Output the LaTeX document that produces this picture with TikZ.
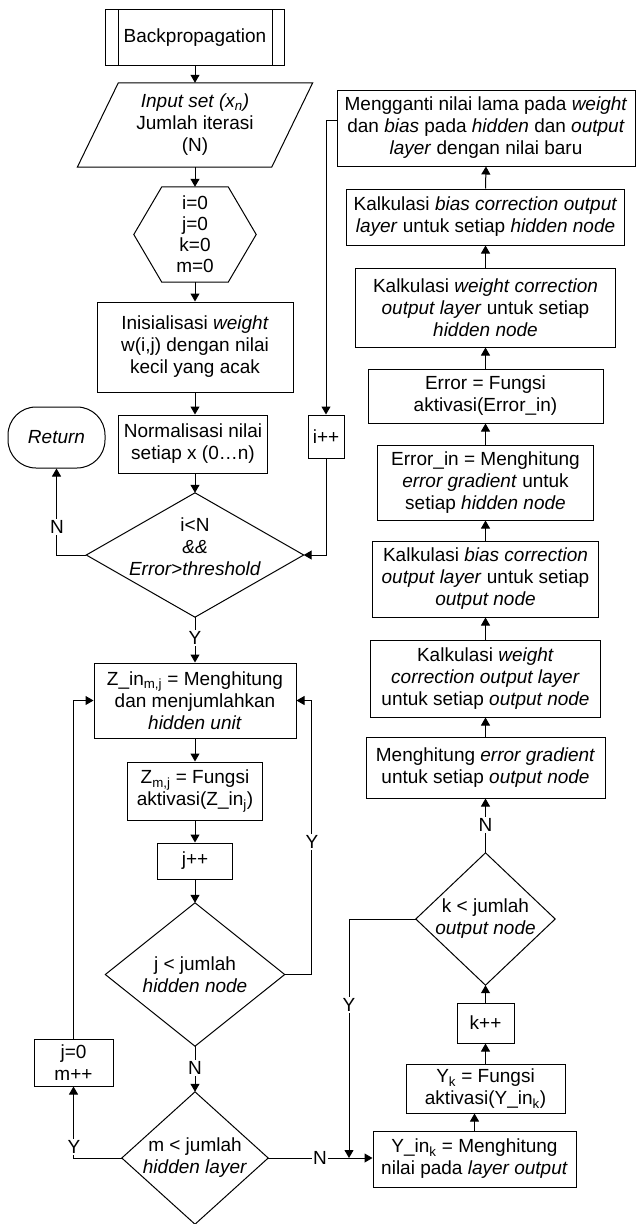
\documentclass[tikz,border=0pt]{standalone}
\usepackage{fontspec}
\setmainfont{Liberation Sans}
\usetikzlibrary{arrows.meta,calc}
\begin{document}
\begin{tikzpicture}[x=1pt,y=-1pt,
  every node/.style={font=\fontsize{19}{22}\selectfont, align=center, inner sep=1pt},
  bx/.style 2 args={draw, rectangle, line width=1pt, minimum width=#1pt, minimum height=#2pt},
  shp/.style 2 args={rectangle, minimum width=#1pt, minimum height=#2pt},
  arr/.style={line width=1pt, -{Triangle[length=8pt,width=9pt]}},
  ln/.style={line width=1pt},
  lbl/.style={fill=white, inner sep=1.5pt}]
\useasboundingbox (0,0) rectangle (635,1224);

% ---------- left column ----------
\node[bx={179}{56}] (bp) at (195,37.5) {Backpropagation};
\draw[ln] ($(bp.north west)+(13,0)$) -- ($(bp.south west)+(13,0)$);
\draw[ln] ($(bp.north east)+(-13,0)$) -- ($(bp.south east)+(-13,0)$);

\node[shp={235}{84}] (io) at (195,125) {\textit{Input set (x\textsubscript{n})}\\Jumlah iterasi\\(N)};
\draw[ln] ($(io.north west)+(41,0)$) -- (io.north east) -- ($(io.south east)+(-41,0)$) -- (io.south west) -- cycle;

\node[shp={122}{95}, font=\fontsize{19}{21}\selectfont] (hex) at (195,234.5) {i=0\\j=0\\k=0\\m=0};
\draw[ln] (hex.west) -- ($(hex.north west)+(28,0)$) -- ($(hex.north east)+(-28,0)$) -- (hex.east)
  -- ($(hex.south east)+(-28,0)$) -- ($(hex.south west)+(28,0)$) -- cycle;

\node[bx={196}{90}] (init) at (195,347) {Inisialisasi \textit{weight}\\w(i,j) dengan nilai\\kecil yang acak};
\node[bx={149}{58}] (norm) at (193,444) {Normalisasi nilai\\setiap x (0…n)};
\node[bx={97}{61}, rounded corners=28pt] (ret) at (56.5,437.5) {\textit{Return}};

\node[shp={217}{124}] (d1) at (195,555) {};
\draw[ln] (d1.north) -- (d1.east) -- (d1.south) -- (d1.west) -- cycle;
\node (d1t) at (195,547) {i<N\\\textit{\&\&}\\\textit{Error>threshold}};

\node[bx={36}{43}] (ipp) at (326,436.5) {i++};

\node[bx={202}{75}] (zin) at (195,700.5) {Z\_in\textsubscript{m,j} = Menghitung\\dan menjumlahkan\\\textit{hidden unit}};
\node[bx={135}{58}] (zmj) at (195,791) {Z\textsubscript{m,j} = Fungsi\\aktivasi(Z\_in\textsubscript{j})};
\node[bx={75}{36}] (jpp) at (195,861) {j++};

\node[shp={179}{143}] (d2) at (195,974.5) {j < jumlah\\\textit{hidden node}};
\draw[ln] (d2.north) -- (d2.east) -- (d2.south) -- (d2.west) -- cycle;

\node[shp={146}{132}] (d3) at (195,1158) {m < jumlah\\\textit{hidden layer}};
\draw[ln] (d3.north) -- (d3.east) -- (d3.south) -- (d3.west) -- cycle;

\node[bx={79}{47}] (jm) at (73.5,1062.5) {j=0\\m++};

% ---------- right column ----------
\node[bx={298}{76}] (mg) at (486,128) {Mengganti nilai lama pada \textit{weight}\\dan \textit{bias} pada \textit{hidden} dan \textit{output}\\\textit{layer} dengan nilai baru};
\node[bx={278}{56}] (kbh) at (485.5,217) {Kalkulasi \textit{bias correction output}\\\textit{layer} untuk setiap \textit{hidden node}};
\node[bx={260}{79}] (kwh) at (485.5,307.5) {Kalkulasi \textit{weight correction}\\\textit{output layer} untuk setiap\\\textit{hidden node}};
\node[bx={235}{54}] (err) at (485.5,396) {Error = Fungsi\\aktivasi(Error\_in)};
\node[bx={216}{75}] (errin) at (485.5,482.5) {Error\_in = Menghitung\\\textit{error gradient} untuk\\setiap \textit{hidden node}};
\node[bx={226}{76}] (kbo) at (485.5,579) {Kalkulasi \textit{bias correction}\\\textit{output layer} untuk setiap\\\textit{output node}};
\node[bx={230}{77}] (kwo) at (485.5,678.5) {Kalkulasi \textit{weight}\\\textit{correction output layer}\\untuk setiap \textit{output node}};
\node[bx={239}{61}] (meg) at (485.5,767.5) {Menghitung \textit{error gradient}\\untuk setiap \textit{output node}};

\node[shp={139}{132}] (d4) at (485.5,919) {k < jumlah\\\textit{output node}};
\draw[ln] (d4.north) -- (d4.east) -- (d4.south) -- (d4.west) -- cycle;

\node[bx={57}{40}] (kpp) at (485.5,1023) {k++};
\node[bx={159}{49}] (yk) at (485.5,1088.5) {Y\textsubscript{k} = Fungsi\\aktivasi(Y\_in\textsubscript{k})};
\node[bx={203}{56}] (yin) at (474.5,1159) {Y\_in\textsubscript{k} = Menghitung\\nilai pada \textit{layer output}};

\coordinate (yj) at (349,1158);

% ---------- connectors ----------
\draw[arr] (bp.south) -- (io.north);
\draw[arr] (io.south) -- (hex.south |- hex.north);
\draw[arr] (hex.south) -- (init.north);
\draw[arr] (init.south) -- (init.south |- norm.north);
\draw[arr] (norm.south -| d1.north) -- (d1.north);
\draw[arr] (d1.west) -| (ret.south);
\draw[arr] ($(mg.west)+(0,-8)$) -| (ipp.north);
\draw[arr] (ipp.south) |- (d1.east);
\draw[arr] (d1.south) -- (zin.north);
\draw[arr] (zin.south) -- (zmj.north);
\draw[arr] (zmj.south) -- (jpp.north);
\draw[arr] (jpp.south) -- (d2.north);
\draw[arr] (d2.east) -- ++(27,0) |- (zin.east);
\draw[arr] (d2.south) -- (d3.north);
\draw[arr] (d3.west) -| (jm.south);
\draw[arr] (jm.north) |- (zin.west);
\draw[arr] (d3.east) -- (d3.east -| yin.west);
\draw[arr] (d4.west) -| (yj);
\draw[arr] (yin.north) -- (yin.north |- yk.south);
\draw[arr] (yk.north) -- (kpp.south);
\draw[arr] (kpp.north) -- (d4.south);
\draw[arr] (d4.north) -- (meg.south);
\draw[arr] (meg.north) -- (kwo.south);
\draw[arr] (kwo.north) -- (kbo.south);
\draw[arr] (kbo.north) -- (errin.south);
\draw[arr] (errin.north) -- (err.south);
\draw[arr] (err.north) -- (kwh.south);
\draw[arr] (kwh.north) -- (kbh.south);
\draw[arr] (kbh.north) -- (mg.south);

% ---------- labels ----------
\node[lbl] (l1) at (57,527) {N};
\node[lbl] (l2) at (195,638) {Y};
\node[lbl] (l3) at (312,842) {Y};
\node[lbl] (l4) at (195,1068) {N};
\node[lbl] (l5) at (74,1147) {Y};
\node[lbl] (l6) at (320,1158) {N};
\node[lbl] (l7) at (349,1005) {Y};
\node[lbl] (l8) at (485.5,825) {N};
\end{tikzpicture}
\end{document}
